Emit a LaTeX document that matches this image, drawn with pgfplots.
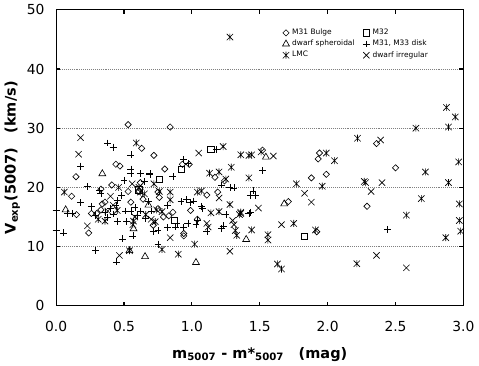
\documentclass[border=0pt]{standalone}
\usepackage{pgfplots}
\pgfplotsset{compat=1.18}
\usepackage{fontspec}
\setmainfont{DejaVu Sans}

% LMC marker: a cross with a vertical bar through it
\pgfdeclareplotmark{lmc}{%
  \pgfpathmoveto{\pgfqpoint{-\pgfplotmarksize}{-\pgfplotmarksize}}%
  \pgfpathlineto{\pgfqpoint{\pgfplotmarksize}{\pgfplotmarksize}}%
  \pgfpathmoveto{\pgfqpoint{-\pgfplotmarksize}{\pgfplotmarksize}}%
  \pgfpathlineto{\pgfqpoint{\pgfplotmarksize}{-\pgfplotmarksize}}%
  \pgfpathmoveto{\pgfqpoint{0pt}{-1.1\pgfplotmarksize}}%
  \pgfpathlineto{\pgfqpoint{0pt}{1.1\pgfplotmarksize}}%
  \pgfusepathqstroke}

\begin{document}
\begin{tikzpicture}
\begin{axis}[
    scale only axis,
    width=10.35cm, height=7.52cm,
    xmin=0, xmax=3, ymin=0, ymax=50,
    xtick={0,0.5,...,3}, ytick={0,10,...,50},
    tick pos=both, tick align=inside,
    major tick length=3pt,
    axis line style={line width=0.9pt},
    every tick/.style={black, line width=0.8pt},
    ymajorgrids=true,
    grid style={densely dotted, gray, line width=0.6pt},
    /pgf/number format/assume math mode=true,
    xticklabel={\pgfmathprintnumber[fixed,fixed zerofill,precision=1]{\tick}},
    ticklabel style={font=\fontsize{10}{12}\selectfont},
    xticklabel style={yshift=-8pt},
    yticklabel style={xshift=-5pt},
    xlabel={\textbf{m\textsubscript{5007} - m*\textsubscript{5007}\quad(mag)}},
    ylabel={\textbf{V\textsubscript{exp}(5007)\quad(km/s)}},
    label style={font=\fontsize{10.5}{12}\selectfont},
    xlabel style={yshift=-4pt},
    ylabel style={yshift=-2pt},
    legend columns=2,
    legend cell align=left,
    legend image code/.code={%
        \draw[mark repeat=2,mark phase=2] plot coordinates {(0cm,0cm) (0.12cm,0cm) (0.24cm,0cm)};},
    legend style={draw=none, fill=none, at={(0.545,0.955)}, anchor=north west,
        font=\fontsize{5.4}{6}\selectfont, row sep=-1.5pt,
        /tikz/every even column/.append style={column sep=4pt},
        /tikz/every odd column/.append style={column sep=0pt}},
    every axis plot/.append style={only marks, black, line width=0.45pt},
]

% M31 Bulge
\addplot[mark=square, mark size=1.6pt, mark options={rotate=45}] coordinates {
(0.53,30.6) (0.84,30.2) (0.63,26.6) (0.72,25.4) (0.44,23.9) (0.47,23.6)
(0.146,21.8) (0.93,23.9) (0.80,23.1) (0.114,18.5) (0.33,19.7) (0.41,20.4)
(0.53,19.3) (0.62,20.8) (0.61,19.3) (0.75,19.2) (0.76,18.3) (0.15,15.4)
(0.26,15.6) (0.34,17.2) (0.36,17.5) (0.55,17.5) (0.75,16.4) (0.79,15.0)
(0.86,15.8) (0.24,12.3) (0.64,18.0) (0.33,16.2) (0.30,15.6) (1.11,18.7)
(1.19,19.2) (1.17,21.7) (1.24,21.1) (0.99,16.1) (1.04,14.6) (0.715,13.6)
(0.94,11.8) (0.94,12.2) (1.52,26.3) (1.94,25.8) (1.93,24.8) (1.99,22.2)
(1.88,21.6) (1.71,17.6) (1.92,12.5) (2.36,27.4) (2.50,23.3) (2.29,16.8)
(0.98,23.9) (0.83,15.2)
};
\addlegendentry{M31 Bulge}

% M32
\addplot[mark=square, mark size=2.3pt] coordinates {
(1.14,26.4) (0.92,23.1) (0.76,21.4) (0.61,19.6) (0.87,14.4) (1.83,11.7)
};
\addlegendentry{M32}

% dwarf spheroidal
\addplot[mark=triangle, mark size=2.9pt] coordinates {
(0.34,22.3) (0.07,16.2) (0.57,13.0) (0.54,9.3) (0.655,8.3) (1.03,7.3)
(1.40,11.2) (1.545,25.1) (1.68,17.2) (0.68,17.0)
};
\addlegendentry{dwarf spheroidal}

% M31, M33 disk
\addplot[mark=+, mark size=2.5pt] coordinates {
(0.38,27.5) (0.42,26.8) (0.55,25.5) (0.18,23.6) (0.55,23.1) (0.55,22.3)
(0.62,22.3) (0.69,22.3) (0.23,20.1) (0.33,19.0) (0.32,19.5) (0.45,17.8)
(0.40,16.5) (0.18,17.4) (0.44,17.0) (0.51,16.0) (0.55,15.9) (0.62,16.0)
(0.0,16.1) (0.085,15.6) (0.12,15.6) (0.29,15.3) (0.36,15.8) (0.45,14.3)
(0.52,14.2) (0.0,12.8) (0.056,12.3) (0.565,11.8) (0.49,11.3) (0.29,9.3)
(0.444,7.4) (0.75,10.4) (0.715,12.5) (0.88,13.3) (0.94,24.7) (0.97,24.0)
(1.18,26.4) (0.69,22.2) (0.86,21.8) (1.22,20.4) (1.28,20.0) (1.31,19.9)
(0.92,17.6) (0.96,17.9) (0.99,17.4) (1.01,17.7) (1.07,16.8) (1.075,16.5)
(1.25,15.4) (1.42,15.6) (0.97,13.9) (1.03,13.7) (1.11,12.6) (1.22,13.0)
(1.23,13.5) (0.89,13.9) (0.94,13.2) (0.75,12.7) (1.52,22.8) (1.45,19.4)
(1.47,18.7) (1.43,18.6) (1.43,15.8) (2.44,12.9) (0.60,15.2) (0.66,14.8)
(0.68,17.6) (0.70,16.0) (0.48,18.6) (0.58,16.6) (0.26,16.8) (0.38,14.9)
(0.42,15.5) (0.82,17.0) (0.65,21.0) (0.50,21.2) (1.04,14.4) (0.82,13.2)
};
\addlegendentry{M31, M33 disk}

% LMC
\addplot[mark=lmc, mark size=2.3pt] coordinates {
(1.28,45.4) (0.59,27.5) (1.23,26.9) (1.36,25.5) (1.42,25.4) (1.44,25.5)
(1.51,26.0) (1.29,23.4) (1.20,22.6) (1.25,21.4) (1.42,21.6) (0.72,20.6)
(0.76,19.3) (0.84,19.2) (1.04,19.2) (1.07,19.4) (0.46,20.0) (0.61,20.0)
(0.62,19.2) (0.65,18.9) (0.06,19.2) (0.84,17.9) (1.28,17.1) (0.74,16.2)
(0.78,15.9) (1.14,15.7) (1.20,15.9) (1.36,15.8) (1.35,15.4) (0.45,16.1)
(0.31,14.6) (0.36,14.3) (0.57,14.3) (0.73,14.2) (0.565,13.7) (1.32,12.7)
(1.44,12.8) (1.33,11.9) (1.56,11.1) (0.78,9.5) (1.02,10.4) (0.90,8.7)
(0.54,9.3) (1.75,13.9) (1.77,20.6) (1.96,20.2) (1.99,25.8) (2.05,24.5)
(1.56,12.0) (1.91,12.8) (1.63,7.05) (1.66,6.2) (2.875,33.5) (2.94,31.9)
(2.65,30.0) (2.89,30.2) (2.22,28.3) (2.965,24.3) (2.72,22.6) (2.27,21.0)
(2.28,20.8) (2.89,20.8) (2.69,18.1) (2.97,17.2) (2.58,15.3) (2.97,14.4)
(2.98,12.6) (2.87,11.5) (2.215,7.1) (1.36,15.6) (1.13,22.4) (0.66,15.4)
};
\addlegendentry{LMC}

% dwarf irregular
\addplot[mark=x, mark size=3.2pt] coordinates {
(0.18,28.4) (0.165,25.6) (1.05,25.8) (1.60,25.3) (2.39,28.0) (0.40,18.5)
(0.42,17.0) (0.466,8.5) (0.23,13.5) (0.84,11.5) (1.20,18.2) (1.11,13.9)
(1.30,14.4) (1.31,13.7) (1.12,13.3) (1.49,16.5) (1.28,9.2) (1.83,19.0)
(1.88,17.5) (1.66,13.7) (2.40,20.8) (2.32,19.3) (2.36,8.5) (2.58,6.4)
(0.38,16.0) (0.56,20.6) (0.58,15.0) (0.70,14.6)
};
\addlegendentry{dwarf irregular}

\end{axis}
\end{tikzpicture}
\end{document}
